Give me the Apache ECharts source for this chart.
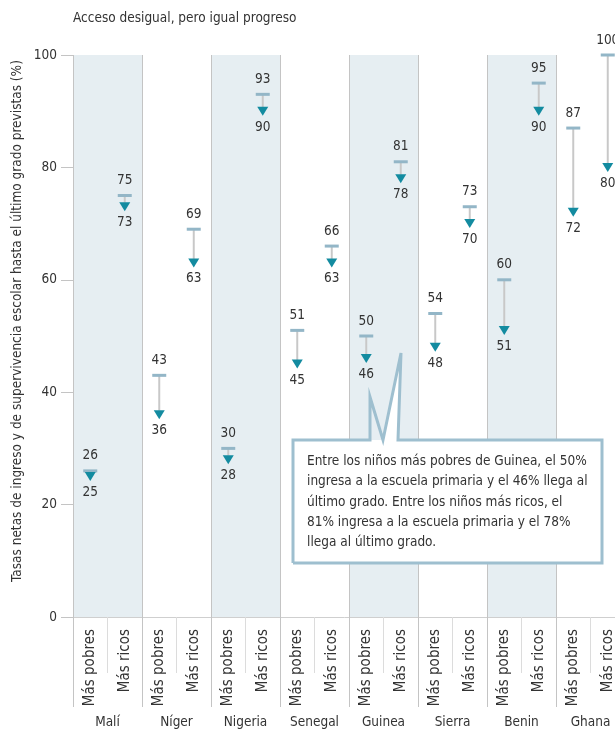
<!DOCTYPE html>
<html>
<head>
<meta charset="utf-8">
<script src="https://cdn.jsdelivr.net/npm/echarts@6/dist/echarts.min.js"></script>
<style>html,body{margin:0;padding:0;background:#fff;}#c{width:615px;height:731px;}</style>
</head>
<body>
<div id="c"></div>
<script>
var countries = ['Malí', 'Níger', 'Nigeria', 'Senegal', 'Guinea', 'Sierra\nLeona', 'Benin', 'Ghana'];
var groups = ['Más pobres', 'Más ricos'];
var entryPoor = [26, 43, 30, 51, 50, 54, 60, 87];
var survPoor  = [25, 36, 28, 45, 46, 48, 51, 72];
var entryRich = [75, 69, 93, 66, 81, 73, 95, 100];
var survRich  = [73, 63, 90, 63, 78, 70, 90, 80];
var yTicks = [0, 20, 40, 60, 80, 100];
var titleText = 'Acceso desigual, pero igual progreso';
var yName = 'Tasas netas de ingreso y de supervivencia escolar hasta el último grado previstas (%)';
var noteLines = [
  'Entre los niños más pobres de Guinea, el 50%',
  'ingresa a la escuela primaria y el 46% llega al',
  'último grado. Entre los niños más ricos, el',
  '81% ingresa a la escuela primaria y el 78%',
  'llega al último grado.'
];

var FONT = '"Liberation Sans Narrow", "DejaVu Sans Condensed", "Liberation Sans", sans-serif';
var TXT = '#333333';

var subCats = [];
var points = [];
countries.forEach(function (c, i) {
  subCats.push(groups[0], groups[1]);
  points.push([2 * i, entryPoor[i], survPoor[i]]);
  points.push([2 * i + 1, entryRich[i], survRich[i]]);
});

var chart = echarts.init(document.getElementById('c'), null, {renderer: 'canvas'});

chart.setOption({
  animation: false,
  title: {
    text: titleText, left: 68, top: 6,
    textStyle: {fontFamily: FONT, fontSize: 13.5, fontWeight: 'normal', color: TXT}
  },
  grid: {left: 73, top: 55, width: 552, bottom: 114, containLabel: false, outerBoundsMode: 'none'},
  xAxis: [{
    type: 'category', data: subCats, position: 'bottom', boundaryGap: true,
    axisLine: {show: true, lineStyle: {color: '#cfcfcf', width: 1}},
    axisTick: {show: true, interval: 0, length: 56, lineStyle: {color: '#dcdcdc'}},
    axisLabel: {interval: 0, rotate: 90, margin: 12, fontFamily: FONT, fontSize: 15, color: TXT},
    splitLine: {show: false}
  }, {
    type: 'category', data: countries, position: 'bottom', boundaryGap: true,
    axisLine: {show: false},
    axisTick: {show: true, interval: 0, length: 90, lineStyle: {color: '#c4c4c4'}},
    axisLabel: {interval: 0, margin: 97, fontFamily: FONT, fontSize: 13.5, color: TXT, lineHeight: 17, verticalAlign: 'top'},
    splitLine: {show: true, interval: 0, lineStyle: {color: '#c4c4c4', width: 1}},
    splitArea: {show: true, interval: 0, areaStyle: {color: ['#e6eef2', 'rgba(255,255,255,0)']}}
  }],
  yAxis: {
    type: 'value', min: 0, max: 100, interval: 20,
    axisLine: {show: false},
    axisTick: {show: true, length: 12, lineStyle: {color: '#c4c4c4'}},
    axisLabel: {margin: 16, fontFamily: FONT, fontSize: 13.5, color: TXT,
      formatter: function (v) { return yTicks.indexOf(v) >= 0 ? String(v) : ''; }},
    splitLine: {show: false}
  },
  series: [{
    type: 'custom',
    xAxisIndex: 0,
    data: points,
    clip: false,
    renderItem: function (params, api) {
      var idx = api.value(0);
      var pE = api.coord([idx, api.value(1)]);
      var pS = api.coord([idx, api.value(2)]);
      var x = pE[0];
      var children = [];
      children.push({type: 'line', shape: {x1: x, y1: pE[1], x2: x, y2: pS[1] - 4},
        style: {stroke: '#c8c8c8', lineWidth: 2}});
      children.push({type: 'rect', shape: {x: x - 7, y: pE[1] - 1.5, width: 14, height: 3},
        style: {fill: '#93b6c7'}});
      children.push({type: 'polygon', shape: {points: [[x - 5.5, pS[1] - 4.5], [x + 5.5, pS[1] - 4.5], [x, pS[1] + 4.5]]},
        style: {fill: '#138ba0'}});
      children.push({type: 'text', x: x, y: pE[1] - 15,
        style: {text: String(api.value(1)), fill: TXT, font: '13.5px ' + FONT, textAlign: 'center', textVerticalAlign: 'middle'}});
      children.push({type: 'text', x: x, y: pS[1] + 16,
        style: {text: String(api.value(2)), fill: TXT, font: '13.5px ' + FONT, textAlign: 'center', textVerticalAlign: 'middle'}});
      return {type: 'group', children: children};
    }
  }],
  graphic: [
    {type: 'text', x: 17, y: 321, rotation: Math.PI / 2,
      style: {text: yName, fill: TXT, font: '13.5px ' + FONT, textAlign: 'center', textVerticalAlign: 'middle'}},
    {type: 'polygon', z: 10,
      shape: {points: [[293, 440], [383, 440], [401, 353], [398, 440], [602, 440], [602, 563], [293, 563]]},
      style: {fill: '#ffffff', stroke: null}},
    {type: 'polyline', z: 11,
      shape: {points: [[293, 563], [293, 440], [370, 440], [370, 397], [383, 440], [401, 353], [398, 440], [602, 440], [602, 563], [293, 563]]},
      style: {stroke: '#9ebfcf', lineWidth: 3, fill: null, lineJoin: 'miter'}},
    {type: 'text', z: 12, x: 307, y: 451.5,
      style: {text: noteLines.join('\n'), fill: TXT, font: '13.5px ' + FONT, lineHeight: 20.3, textAlign: 'left', textVerticalAlign: 'top'}}
  ]
});
</script>
</body>
</html>
